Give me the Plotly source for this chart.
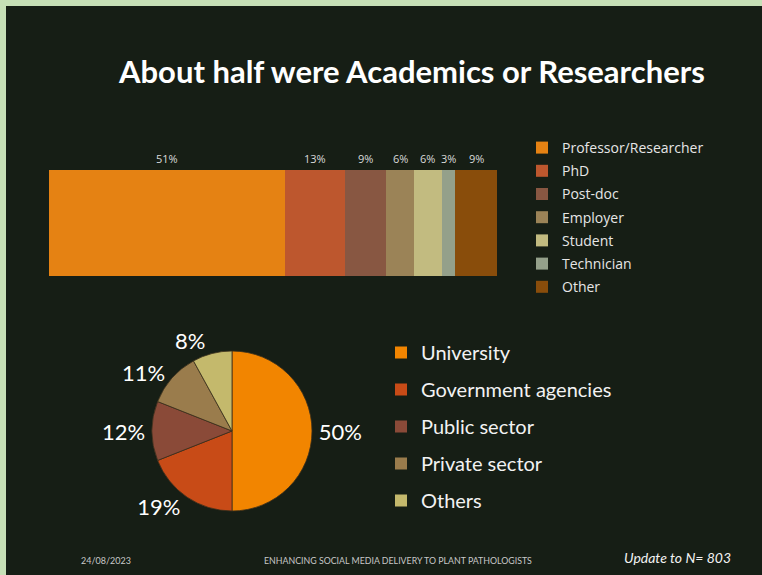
import plotly.graph_objects as go

# Respondent roles (stacked bar)
role_names = ["Professor/Researcher", "PhD", "Post-doc", "Employer", "Student", "Technician", "Other"]
role_pct = [51, 13, 9, 6, 6, 3, 9]
role_colors = ["#E58213", "#BD572E", "#885742", "#9B8357", "#C2BB80", "#94A08A", "#894D0B"]

# Workplace sectors (pie)
sector_names = ["University", "Government agencies", "Public sector", "Private sector", "Others"]
sector_pct = [50, 19, 12, 11, 8]
sector_colors = ["#F28500", "#C84B17", "#8A4A38", "#9A7C4C", "#C4B96C"]

W, H = 762, 575
BG = "#161E15"
FRAME = "#C6DFB6"
LABEL_FONT = "Open Sans"
SLIDE_FONT = "Lato"


def px_x(v):
    return v / W


def px_y(v):
    return 1 - v / H


fig = go.Figure()

for name, val, col in zip(role_names, role_pct, role_colors):
    fig.add_trace(go.Bar(
        y=[""], x=[val], name=name, orientation="h",
        marker=dict(color=col, line=dict(width=0)),
        legend="legend", legendgroup=name, hoverinfo="skip",
    ))

fig.add_trace(go.Pie(
    labels=sector_names, values=sector_pct, sort=False, direction="clockwise", rotation=0,
    marker=dict(colors=sector_colors, line=dict(color="#3A2E1C", width=0.8)),
    textinfo="percent", textposition="outside",
    textfont=dict(family=SLIDE_FONT, size=22, color="#FFFFFF"),
    domain=dict(x=[px_x(152), px_x(312)], y=[px_y(511), px_y(351)]),
    showlegend=False, hoverinfo="skip",
))

# legend entries for the sectors
for name, col in zip(sector_names, sector_colors):
    fig.add_trace(go.Scatter(
        x=[None], y=[None], mode="markers", name=name,
        marker=dict(symbol="square", size=12, color=col),
        legend="legend2", legendgroup="s_" + name, hoverinfo="skip",
    ))

# percentage labels above each bar segment
annotations = []
cum = 0
for val in role_pct:
    annotations.append(dict(
        x=cum + val / 2, y=0.5, xref="x", yref="y", text=f"{val}%",
        showarrow=False, xanchor="center", yanchor="bottom", yshift=2,
        font=dict(family=LABEL_FONT, size=11, color="#DADADA"),
    ))
    cum += val


def slide_text(x, y, text, size, color):
    return dict(x=px_x(x), y=px_y(y), xref="paper", yref="paper", text=text,
                showarrow=False, xanchor="center", yanchor="middle",
                font=dict(family=SLIDE_FONT, size=size, color=color))


annotations += [
    slide_text(411, 71, "<b>About half were Academics or Researchers</b>", 31, "#FFFFFF"),
    slide_text(106, 560, "24/08/2023", 9, "#C8C8C8"),
    slide_text(398, 560, "ENHANCING SOCIAL MEDIA DELIVERY TO PLANT PATHOLOGISTS", 8.8, "#C8C8C8"),
    slide_text(677, 557, "<i>Update to N= 803</i>", 14, "#F2F2F2"),
]

fig.update_layout(
    width=W, height=H, margin=dict(l=0, r=0, t=0, b=0),
    paper_bgcolor=FRAME, plot_bgcolor="rgba(0,0,0,0)",
    barmode="stack", bargap=0,
    xaxis=dict(domain=[px_x(49), px_x(497)], range=[0, sum(role_pct)], visible=False, fixedrange=True),
    yaxis=dict(domain=[px_y(276), px_y(170)], range=[-0.5, 0.5], visible=False, fixedrange=True),
    shapes=[dict(type="rect", xref="paper", yref="paper", x0=px_x(6), x1=1, y0=0, y1=px_y(6),
                 fillcolor=BG, line=dict(width=0), layer="below")],
    annotations=annotations,
    legend=dict(x=px_x(522), y=px_y(132), xanchor="left", yanchor="top",
                bgcolor="rgba(0,0,0,0)", traceorder="grouped", tracegroupgap=2,
                font=dict(family=LABEL_FONT, size=14, color="#E6E6E6")),
    legend2=dict(x=px_x(381), y=px_y(333), xanchor="left", yanchor="top",
                 bgcolor="rgba(0,0,0,0)", traceorder="grouped", tracegroupgap=8,
                 itemsizing="constant",
                 font=dict(family=SLIDE_FONT, size=20, color="#F2F2F2")),
)

fig.write_html("out.html")
